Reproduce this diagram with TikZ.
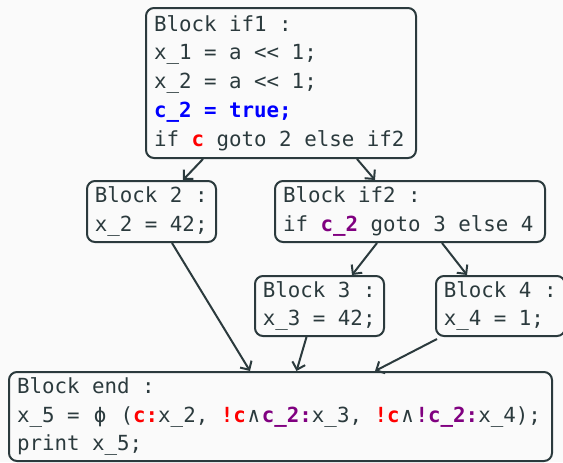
\documentclass[tikz,border=0pt]{standalone}
\usepackage{fontspec}
\usepackage{xcolor}
\usetikzlibrary{positioning,arrows.meta,calc}
\setmonofont{DejaVu Sans Mono}
\definecolor{ink}{HTML}{2B3A3D}
\definecolor{pagebg}{HTML}{FAFAFA}
\definecolor{condred}{HTML}{FF0000}
\definecolor{condpur}{HTML}{800080}
\definecolor{condblu}{HTML}{0000FF}
\newcommand\hlred[1]{\textcolor{condred}{\textbf{#1}}}
\newcommand\hlpur[1]{\textcolor{condpur}{\textbf{#1}}}
\newcommand\hlblu[1]{\textcolor{condblu}{\textbf{#1}}}
\newcommand\widesym[1]{\makebox[12pt]{#1}}

\begin{document}
\begin{tikzpicture}[
  x=0.75pt,y=-0.75pt,
  every node/.style={font=\ttfamily\fontsize{15.6pt}{21.6pt}\selectfont,text=ink,
                     execute at begin node={\spaceskip=0pt\xspaceskip=0pt\relax}},
  blk/.style ={rectangle,draw=ink,line width=1.5pt,rounded corners=6pt,
               align=left,inner xsep=6pt,inner ysep=3pt},
  wide/.style ={blk,text width=190.5pt,minimum width=202.5pt},
  narrow/.style={blk,text width=85pt,minimum width=96.75pt,inner xsep=5.8pt},
  arr/.style ={-{Straight Barb[length=5pt,width=10pt]},line width=1.5pt,draw=ink},
]
\useasboundingbox (0,0) rectangle (563,462);
\fill[pagebg] (0,0) rectangle (563,462);

\node[wide,minimum height=112.5pt]  at (281,83)      (if1) {Block if1 :\\x\_1 = a << 1;\\x\_2 = a << 1;\\\hlblu{c\_2 = true;}\\if \hlred{c} goto 2 else if2};
\node[narrow,minimum height=45.75pt] at (151.5,211.5) (b2)  {Block 2 :\\x\_2 = 42;};
\node[wide,minimum height=45.75pt]   at (410,211.5)   (if2) {Block if2 :\\if \hlpur{c\_2} goto 3 else 4};
\node[narrow,minimum height=45pt]    at (319.5,306)   (b3)  {Block 3 :\\x\_3 = 42;};
\node[narrow,minimum height=45pt]    at (500.5,306)   (b4)  {Block 4 :\\x\_4 = 1;};
\node[blk,text width=395.25pt,minimum width=407.25pt,minimum height=66.75pt]
      at (280.5,416.5) (end) {Block end :\\x\_5 = \widesym{ϕ} (\hlred{c:}x\_2, \hlred{!c}\widesym{∧}\hlpur{c\_2:}x\_3, \hlred{!c}\widesym{∧}\hlpur{!c\_2:}x\_4);\\print x\_5;};

\draw[arr] ($(if1.south)+(-78,0)$)   -- ($(b2.north)+(31.5,0)$);
\draw[arr] ($(if1.south)+(76,0)$)    -- ($(if2.north)+(-35,0)$);
\draw[arr] ($(if2.south)+(-33,0)$)   -- ($(b3.north)+(32.5,0)$);
\draw[arr] ($(if2.south)+(32,0)$)    -- ($(b4.north)+(-33.5,0)$);
\draw[arr] ($(b2.south)+(20.5,0)$)   -- ($(end.north)+(-30.5,0)$);
\draw[arr] ($(b3.south)+(-13,0)$)    -- ($(end.north)+(16,0)$);
\draw[arr] ($(b4.south west)+(2,2)$) -- ($(end.north)+(94.5,0)$);
\end{tikzpicture}
\end{document}
